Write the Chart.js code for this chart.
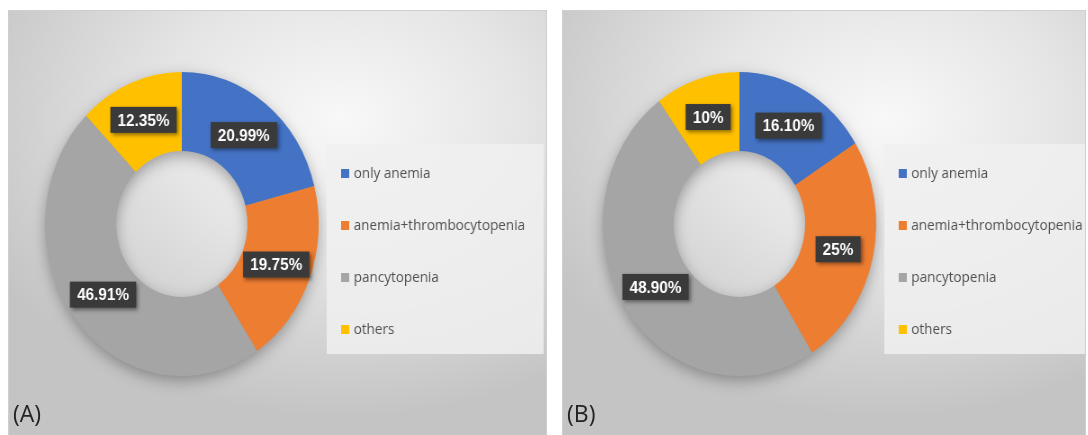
<!DOCTYPE html>
<html>
<head>
<meta charset="utf-8">
<script src="https://cdn.jsdelivr.net/npm/chart.js@4.4.1/dist/chart.umd.min.js"></script>
<style>
  body { margin: 0; background: #fff; width: 1088px; height: 435px; overflow: hidden; position: relative; font-family: "Open Sans", sans-serif; }
  .panel { position: absolute; top: 10px; height: 430px; border: 1px solid #cfcfcf; box-sizing: border-box; overflow: hidden;
           background: radial-gradient(ellipse 75% 70% at 62% 25%, #f8f8f8 0%, #e5e5e5 45%, #c4c4c4 100%); }
  .wrap { position: absolute; left: 0; top: 0; height: 425px; transform: scaleX(0.9); transform-origin: 0 0; }
  .tag { position: absolute; left: 4px; top: 386px; font-size: 23px; color: #222; }
</style>
</head>
<body>
<div class="panel" style="left:8px;width:539px">
  <div class="wrap" style="width:599px"><canvas id="chartA"></canvas></div>
  <div class="tag">(A)</div>
</div>
<div class="panel" style="left:562px;width:524px">
  <div class="wrap" style="width:582px"><canvas id="chartB"></canvas></div>
  <div class="tag">(B)</div>
</div>
<script>
const categories = ['only anemia', 'anemia+thrombocytopenia', 'pancytopenia', 'others'];
const colors = ['#4472C4', '#ED7D31', '#A5A5A5', '#FFC000'];

const valuesA = [20.99, 19.75, 46.91, 12.35];
const textA = ['20.99%', '19.75%', '46.91%', '12.35%'];

const valuesB = [16.10, 25, 48.90, 10];
const textB = ['16.10%', '25%', '48.90%', '10%'];

// soft shadow under the ring
const ringShadow = {
    id: 'ringShadow',
    beforeDatasetsDraw(chart) {
        const arc = chart.getDatasetMeta(0).data[0];
        const { x, y, outerRadius, innerRadius } = arc.getProps(['x', 'y', 'outerRadius', 'innerRadius'], true);
        const ctx = chart.ctx;
        ctx.save();
        ctx.shadowColor = 'rgba(0,0,0,0.35)';
        ctx.shadowBlur = 16;
        ctx.shadowOffsetY = 5;
        ctx.fillStyle = '#999';
        ctx.beginPath();
        ctx.arc(x, y, outerRadius - 1, 0, Math.PI * 2);
        ctx.arc(x, y, innerRadius + 1, 0, Math.PI * 2, true);
        ctx.fill();
        ctx.restore();
    }
};

// dark boxed value labels
const boxLabels = {
    id: 'boxLabels',
    afterDatasetsDraw(chart, args, opts) {
        const ctx = chart.ctx;
        chart.getDatasetMeta(0).data.forEach((arc, i) => {
            const p = arc.tooltipPosition();
            const t = opts.texts[i];
            ctx.save();
            ctx.font = 'bold 17px "Liberation Sans", Arial, sans-serif';
            const w = ctx.measureText(t).width + 16;
            const h = 26;
            ctx.shadowColor = 'rgba(0,0,0,0.45)';
            ctx.shadowBlur = 4;
            ctx.shadowOffsetX = 2;
            ctx.shadowOffsetY = 2;
            ctx.fillStyle = '#3a3a3a';
            ctx.fillRect(p.x - w / 2, p.y - h / 2, w, h);
            ctx.shadowColor = 'transparent';
            ctx.fillStyle = '#fff';
            ctx.textAlign = 'center';
            ctx.textBaseline = 'middle';
            ctx.fillText(t, p.x, p.y + 1);
            ctx.restore();
        });
    }
};

// legend drawn in its light box
const boxLegend = {
    id: 'boxLegend',
    afterDraw(chart, args, opts) {
        const ctx = chart.ctx;
        const ds = chart.data.datasets[0];
        ctx.save();
        ctx.fillStyle = 'rgba(240,240,240,0.85)';
        ctx.fillRect(opts.x, opts.y, opts.w, opts.h);
        ctx.font = '15px "Open Sans", sans-serif';
        ctx.textBaseline = 'middle';
        chart.data.labels.forEach((lab, i) => {
            const y = opts.firstY + i * opts.step;
            ctx.fillStyle = ds.backgroundColor[i];
            ctx.fillRect(opts.markerX, y - 4, 9, 9);
            ctx.fillStyle = '#505050';
            ctx.fillText(lab, opts.textX, y + 1);
        });
        ctx.restore();
    }
};

function makeDonut(id, values, texts, padL, padR, legendX, legendW) {
    return new Chart(document.getElementById(id), {
        type: 'doughnut',
        data: {
            labels: categories,
            datasets: [{
                data: values,
                backgroundColor: colors,
                borderWidth: 0
            }]
        },
        options: {
            responsive: true,
            maintainAspectRatio: false,
            animation: false,
            cutout: '48%',
            layout: { padding: { left: padL, right: padR, top: 61, bottom: 60 } },
            plugins: {
                legend: { display: false },
                tooltip: { enabled: false },
                boxLabels: { texts: texts },
                boxLegend: {
                    x: legendX, y: 133, w: legendW, h: 210,
                    firstY: 162, step: 52,
                    markerX: legendX + 16, textX: legendX + 30
                }
            }
        },
        plugins: [ringShadow, boxLabels, boxLegend]
    });
}

makeDonut('chartA', valuesA, textA, 40, 255, 353, 241);
makeDonut('chartB', valuesB, textB, 44, 234, 357, 225);
</script>
</body>
</html>
